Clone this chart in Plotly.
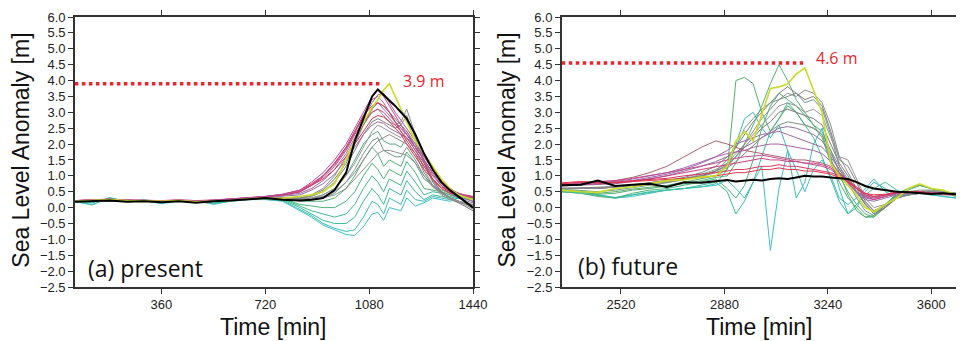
import plotly.graph_objects as go

# ---------------- Panel (a) present ----------------
T_A = [60, 120, 180, 240, 300, 360, 420, 480, 540, 600, 660, 720, 780,
       840, 880, 920, 960, 1000, 1030, 1060, 1090, 1110, 1130, 1150, 1170,
       1190, 1210, 1240, 1270, 1300, 1330, 1360, 1390, 1420, 1440]

a_cyan1 = [0.2, 0.08, 0.32, 0.18, 0.22, 0.12, 0.2, 0.22, 0.1, 0.2, 0.25, 0.25, 0.2,
           -0.1, -0.3, -0.55, -0.7, -0.85, -0.88, -0.6, -0.2, -0.15, -0.4, 0.0,
           -0.05, -0.1, 0.3, 0.05, 0.15, 0.3, 0.25, 0.2, 0.3, 0.35, 0.25]
a_cyan2 = [0.18, 0.1, 0.3, 0.2, 0.25, 0.15, 0.22, 0.2, 0.12, 0.22, 0.26, 0.26, 0.22,
           -0.05, -0.25, -0.5, -0.65, -0.75, -0.7, -0.3, 0.2, 0.1, -0.2, 0.3,
           0.2, 0.1, 0.55, 0.25, 0.2, 0.35, 0.3, 0.25, 0.3, 0.3, 0.2]
a_green1 = [0.2, 0.15, 0.28, 0.2, 0.22, 0.18, 0.2, 0.2, 0.15, 0.2, 0.25, 0.27, 0.25,
            0.0, -0.2, -0.4, -0.5, -0.5, -0.3, 0.2, 0.6, 0.4, 0.1, 0.6,
            0.5, 0.4, 0.85, 0.5, 0.25, 0.4, 0.35, 0.3, 0.35, 0.3, 0.25]
a_green2 = [0.18, 0.18, 0.25, 0.2, 0.2, 0.2, 0.22, 0.18, 0.18, 0.22, 0.27, 0.28, 0.27,
            0.05, -0.1, -0.2, -0.3, -0.2, 0.1, 0.6, 1.0, 0.8, 0.5, 0.9,
            0.8, 0.7, 1.15, 0.8, 0.4, 0.5, 0.45, 0.35, 0.4, 0.3, 0.3]
a_green3 = [0.2, 0.2, 0.24, 0.22, 0.2, 0.2, 0.2, 0.2, 0.2, 0.22, 0.27, 0.3, 0.28,
            0.1, 0.05, 0.0, 0.0, 0.2, 0.5, 1.0, 1.4, 1.2, 0.9, 1.2,
            1.1, 1.0, 1.45, 1.1, 0.6, 0.55, 0.5, 0.4, 0.35, 0.3, 0.25]
a_green4 = [0.2, 0.2, 0.22, 0.2, 0.22, 0.2, 0.2, 0.18, 0.2, 0.22, 0.28, 0.3, 0.3,
            0.2, 0.2, 0.2, 0.3, 0.6, 1.0, 1.5, 1.9, 1.7, 1.3, 1.5,
            1.4, 1.3, 1.75, 1.4, 0.9, 0.7, 0.55, 0.45, 0.4, 0.3, 0.3]
a_green5 = [0.2, 0.2, 0.22, 0.2, 0.2, 0.2, 0.2, 0.18, 0.2, 0.22, 0.27, 0.3, 0.3,
            0.25, 0.3, 0.4, 0.6, 1.0, 1.5, 2.0, 2.3, 2.4, 2.1, 2.0,
            2.0, 1.9, 2.2, 1.8, 1.3, 0.9, 0.6, 0.45, 0.35, 0.3, 0.2]
a_graygreen = [0.2, 0.2, 0.22, 0.2, 0.2, 0.2, 0.2, 0.2, 0.2, 0.22, 0.27, 0.3, 0.3,
               0.22, 0.25, 0.3, 0.45, 0.8, 1.2, 1.7, 2.1, 2.2, 1.8, 1.7,
               1.6, 1.6, 1.9, 1.5, 1.0, 0.7, 0.5, 0.4, 0.3, 0.25, 0.2]
a_gray1 = [0.2, 0.2, 0.23, 0.2, 0.2, 0.2, 0.2, 0.19, 0.2, 0.22, 0.27, 0.3, 0.32,
           0.3, 0.4, 0.6, 1.0, 1.6, 2.1, 2.6, 3.0, 3.1, 2.9, 2.7,
           2.6, 2.7, 3.1, 2.3, 1.5, 0.9, 0.5, 0.3, 0.2, 0.05, -0.05]
a_gray2 = [0.2, 0.2, 0.22, 0.2, 0.2, 0.2, 0.2, 0.2, 0.2, 0.22, 0.27, 0.3, 0.3,
           0.28, 0.35, 0.5, 0.8, 1.3, 1.8, 2.3, 2.7, 2.8, 2.7, 2.6,
           2.5, 2.6, 2.9, 2.2, 1.4, 0.8, 0.45, 0.3, 0.2, 0.1, 0.0]
a_gray3 = [0.2, 0.2, 0.22, 0.2, 0.2, 0.2, 0.2, 0.2, 0.2, 0.22, 0.27, 0.3, 0.3,
           0.25, 0.3, 0.4, 0.6, 1.0, 1.4, 1.9, 2.4, 2.6, 2.5, 2.4,
           2.3, 2.2, 2.4, 1.9, 1.2, 0.7, 0.4, 0.25, 0.15, 0.1, 0.05]
a_gray4 = [0.2, 0.2, 0.22, 0.2, 0.2, 0.2, 0.2, 0.2, 0.2, 0.22, 0.27, 0.3, 0.32,
           0.3, 0.38, 0.55, 0.9, 1.4, 2.0, 2.6, 3.1, 3.3, 3.2, 3.0,
           2.8, 2.6, 2.4, 2.0, 1.4, 0.85, 0.5, 0.3, 0.15, 0.0, -0.1]
a_gray5 = [0.2, 0.2, 0.22, 0.2, 0.2, 0.2, 0.2, 0.2, 0.2, 0.22, 0.27, 0.3, 0.3,
           0.25, 0.3, 0.35, 0.5, 0.8, 1.1, 1.5, 1.9, 2.1, 2.2, 2.3,
           2.2, 2.1, 2.0, 1.7, 1.1, 0.7, 0.45, 0.3, 0.2, 0.1, 0.1]
a_gray6 = [0.2, 0.2, 0.22, 0.2, 0.2, 0.2, 0.2, 0.2, 0.2, 0.22, 0.27, 0.3, 0.3,
           0.22, 0.25, 0.3, 0.4, 0.6, 0.9, 1.2, 1.5, 1.7, 1.8, 1.8,
           1.75, 1.7, 1.65, 1.4, 1.0, 0.65, 0.45, 0.3, 0.2, 0.15, 0.1]
a_purple1 = [0.22, 0.22, 0.25, 0.22, 0.22, 0.2, 0.22, 0.2, 0.22, 0.25, 0.3, 0.33, 0.38,
             0.45, 0.6, 0.85, 1.2, 1.7, 2.2, 2.7, 3.1, 3.3, 3.1, 2.9,
             2.7, 2.5, 2.3, 1.9, 1.5, 1.1, 0.75, 0.5, 0.35, 0.25, 0.2]
a_purple2 = [0.22, 0.22, 0.26, 0.22, 0.22, 0.2, 0.22, 0.2, 0.22, 0.25, 0.3, 0.33, 0.4,
             0.5, 0.7, 1.0, 1.4, 1.9, 2.4, 2.9, 3.4, 3.5, 3.3, 3.0,
             2.7, 2.5, 2.3, 2.0, 1.6, 1.2, 0.8, 0.55, 0.4, 0.3, 0.25]
a_purple3 = [0.2, 0.21, 0.24, 0.21, 0.21, 0.2, 0.21, 0.2, 0.21, 0.24, 0.29, 0.32, 0.36,
             0.4, 0.55, 0.75, 1.05, 1.5, 1.9, 2.3, 2.6, 2.7, 2.65, 2.5,
             2.4, 2.3, 2.2, 1.9, 1.5, 1.05, 0.7, 0.45, 0.3, 0.2, 0.15]
a_magenta1 = [0.22, 0.24, 0.27, 0.24, 0.23, 0.22, 0.24, 0.22, 0.24, 0.27, 0.32, 0.35, 0.42,
              0.55, 0.8, 1.1, 1.5, 2.0, 2.5, 3.0, 3.5, 3.7, 3.5, 3.2,
              2.9, 2.6, 2.3, 1.9, 1.5, 1.1, 0.8, 0.55, 0.45, 0.35, 0.3]
a_magenta2 = [0.22, 0.23, 0.26, 0.23, 0.22, 0.21, 0.23, 0.21, 0.23, 0.26, 0.31, 0.34, 0.4,
              0.5, 0.7, 0.95, 1.3, 1.8, 2.3, 2.7, 3.0, 3.1, 3.0, 2.8,
              2.6, 2.4, 2.2, 1.8, 1.4, 1.0, 0.7, 0.5, 0.4, 0.35, 0.3]
a_magenta3 = [0.22, 0.23, 0.26, 0.23, 0.22, 0.21, 0.23, 0.21, 0.23, 0.26, 0.31, 0.35, 0.41,
              0.52, 0.72, 1.0, 1.35, 1.85, 2.35, 2.85, 3.3, 3.55, 3.6, 3.3,
              3.0, 2.75, 2.5, 2.1, 1.6, 1.2, 0.85, 0.6, 0.45, 0.35, 0.3]
a_red1 = [0.22, 0.24, 0.26, 0.24, 0.22, 0.22, 0.24, 0.22, 0.23, 0.26, 0.31, 0.35, 0.42,
          0.55, 0.75, 1.0, 1.4, 1.9, 2.4, 2.9, 3.2, 3.3, 3.2, 3.0,
          2.7, 2.4, 2.1, 1.7, 1.3, 0.9, 0.6, 0.45, 0.4, 0.35, 0.35]
a_red2 = [0.2, 0.22, 0.25, 0.22, 0.21, 0.2, 0.22, 0.2, 0.22, 0.25, 0.3, 0.34, 0.4,
          0.5, 0.7, 0.9, 1.2, 1.6, 2.0, 2.4, 2.8, 2.9, 2.85, 2.7,
          2.5, 2.3, 2.0, 1.6, 1.2, 0.9, 0.65, 0.5, 0.45, 0.4, 0.35]
a_yellow = [0.2, 0.22, 0.25, 0.22, 0.2, 0.2, 0.22, 0.18, 0.2, 0.22, 0.28, 0.3, 0.3,
            0.35, 0.4, 0.5, 0.75, 1.5, 2.15, 2.7, 3.15, 3.4, 3.7, 3.9,
            3.5, 3.1, 2.75, 2.1, 1.7, 1.3, 0.9, 0.6, 0.4, 0.3, 0.25]
a_black = [0.18, 0.2, 0.22, 0.18, 0.2, 0.17, 0.2, 0.15, 0.2, 0.22, 0.25, 0.3, 0.25,
           0.22, 0.25, 0.3, 0.55, 1.1, 2.1, 2.8, 3.5, 3.72, 3.55, 3.4,
           3.2, 3.0, 2.8, 2.3, 1.7, 1.2, 0.8, 0.55, 0.35, 0.15, 0.0]

# ---------------- Panel (b) future ----------------
T_B = [2314, 2380, 2440, 2500, 2560, 2620, 2680, 2740, 2800, 2850,
       2890, 2920, 2950, 2980, 3010, 3040, 3070, 3100, 3130, 3160,
       3190, 3220, 3250, 3280, 3310, 3340, 3370, 3400, 3440, 3480,
       3520, 3560, 3600, 3640, 3686]

b_cyan1 = [0.5, 0.48, 0.4, 0.3, 0.35, 0.45, 0.55, 0.6, 0.65, 0.7,
           0.86, 0.6, 0.3, 0.8, 1.3, -1.35, 0.6, 1.8, 1.2, 0.5,
           1.2, 1.5, 1.0, 0.3, 0.1, 0.3, 0.6, 0.9, 0.5, 0.3,
           0.4, 0.45, 0.4, 0.35, 0.3]
b_cyan2 = [0.55, 0.5, 0.4, 0.32, 0.4, 0.5, 0.55, 0.6, 0.65, 0.75,
           1.2, 2.0, 2.8, 3.0, 2.5, 2.2, 2.6, 1.8, 0.3, 0.8,
           2.0, 2.5, 1.6, 0.6, -0.2, 0.0, 0.5, 0.8, 0.6, 0.35,
           0.4, 0.45, 0.4, 0.35, 0.3]
b_cyan3 = [0.5, 0.45, 0.38, 0.3, 0.4, 0.48, 0.55, 0.6, 0.7, 0.8,
           0.5, -0.2, 0.2, 0.8, 1.6, 2.4, 2.8, 3.3, 3.0, 2.6,
           2.2, 1.6, 0.9, 0.2, -0.2, 0.1, 0.4, 0.6, 0.8, 0.55,
           0.4, 0.45, 0.5, 0.45, 0.35]
b_green1 = [0.55, 0.52, 0.45, 0.5, 0.58, 0.65, 0.7, 0.8, 0.9, 1.0,
            1.2, 4.0, 4.1, 3.9, 3.0, 2.4, 2.8, 3.2, 3.0, 2.6,
            2.5, 2.3, 1.5, 1.0, 0.5, 0.1, -0.2, -0.3, 0.0, 0.4,
            0.6, 0.7, 0.6, 0.5, 0.45]
b_green2 = [0.55, 0.5, 0.42, 0.45, 0.55, 0.6, 0.68, 0.75, 0.85, 0.95,
            1.0, 1.4, 2.0, 2.6, 3.2, 3.9, 4.5, 4.0, 3.4, 3.0,
            2.6, 2.2, 1.4, 0.8, 0.3, 0.0, -0.3, -0.25, 0.1, 0.45,
            0.6, 0.7, 0.6, 0.5, 0.45]
b_green3 = [0.5, 0.45, 0.35, 0.3, 0.45, 0.55, 0.6, 0.7, 0.8, 0.9,
            0.6, 0.3, 0.7, 1.5, 2.5, 3.2, 3.6, 3.4, 3.2, 2.9,
            2.6, 2.4, 1.8, 1.1, 0.4, -0.1, -0.3, -0.3, 0.1, 0.4,
            0.55, 0.7, 0.6, 0.5, 0.4]
b_graygreen = [0.58, 0.55, 0.5, 0.55, 0.62, 0.7, 0.78, 0.88, 1.0, 1.15,
               1.5, 1.9, 2.5, 2.8, 3.1, 3.3, 3.4, 3.5, 3.6, 3.3,
               3.4, 3.1, 2.3, 1.3, 0.8, 0.3, -0.1, -0.25, 0.0, 0.35,
               0.5, 0.55, 0.55, 0.5, 0.45]
b_gray1 = [0.6, 0.62, 0.6, 0.65, 0.7, 0.75, 0.8, 0.9, 1.0, 1.15,
           1.3, 1.6, 2.0, 2.4, 2.8, 3.1, 3.4, 3.6, 3.5, 3.7,
           3.6, 3.3, 2.6, 1.6, 1.1, 0.6, 0.1, -0.15, 0.0, 0.3,
           0.4, 0.45, 0.5, 0.5, 0.4]
b_gray2 = [0.62, 0.6, 0.62, 0.66, 0.7, 0.78, 0.85, 0.95, 1.1, 1.3,
           1.6, 1.9, 2.3, 2.7, 3.0, 3.3, 3.6, 3.8, 3.6, 3.4,
           3.5, 3.2, 2.4, 1.5, 1.3, 0.8, 0.2, -0.1, 0.05, 0.35,
           0.45, 0.5, 0.5, 0.45, 0.4]
b_gray3 = [0.6, 0.6, 0.6, 0.64, 0.7, 0.75, 0.82, 0.9, 1.05, 1.2,
           1.4, 1.7, 2.0, 2.3, 2.6, 2.9, 3.2, 3.3, 3.2, 3.0,
           3.1, 2.9, 2.2, 1.6, 1.5, 0.9, 0.3, 0.0, 0.1, 0.35,
           0.45, 0.5, 0.55, 0.5, 0.45]
b_gray4 = [0.6, 0.62, 0.62, 0.66, 0.72, 0.78, 0.85, 0.92, 1.0, 1.15,
           1.35, 1.6, 1.9, 2.2, 2.5, 2.7, 3.0, 3.1, 3.0, 2.9,
           2.8, 2.6, 2.0, 1.4, 1.0, 0.5, 0.1, -0.2, 0.0, 0.3,
           0.4, 0.45, 0.5, 0.45, 0.4]
b_gray5 = [0.6, 0.6, 0.6, 0.65, 0.7, 0.75, 0.8, 0.88, 0.98, 1.1,
           1.25, 1.45, 1.7, 1.95, 2.2, 2.4, 2.6, 2.7, 2.65, 2.6,
           2.5, 2.3, 1.8, 1.3, 0.9, 0.5, 0.15, -0.1, 0.05, 0.3,
           0.4, 0.45, 0.5, 0.45, 0.4]
b_purple1 = [0.7, 0.72, 0.75, 0.8, 0.85, 0.95, 1.05, 1.2, 1.4, 1.6,
             1.8, 2.0, 2.1, 2.2, 2.3, 2.35, 2.4, 2.3, 2.2, 2.1,
             2.0, 1.9, 1.6, 1.2, 0.8, 0.5, 0.3, 0.25, 0.35, 0.45,
             0.5, 0.5, 0.45, 0.45, 0.4]
b_purple2 = [0.72, 0.75, 0.78, 0.82, 0.9, 1.0, 1.1, 1.25, 1.45, 1.6,
             1.7, 1.75, 1.8, 1.9, 1.95, 2.0, 2.0, 1.95, 1.9, 1.85,
             1.8, 1.7, 1.45, 1.1, 0.75, 0.5, 0.35, 0.3, 0.4, 0.45,
             0.5, 0.5, 0.45, 0.45, 0.4]
b_purple3 = [0.68, 0.7, 0.72, 0.75, 0.82, 0.9, 1.0, 1.15, 1.3, 1.45,
             1.6, 1.75, 1.9, 2.05, 2.2, 2.35, 2.5, 2.55, 2.5, 2.4,
             2.3, 2.1, 1.7, 1.2, 0.8, 0.45, 0.25, 0.2, 0.3, 0.4,
             0.45, 0.5, 0.45, 0.45, 0.4]
b_brown = [0.75, 0.78, 0.8, 0.85, 0.95, 1.1, 1.3, 1.6, 1.9, 2.1,
           2.0, 1.9, 1.8, 1.75, 1.7, 1.65, 1.6, 1.55, 1.5, 1.5,
           1.45, 1.4, 1.3, 1.1, 0.85, 0.6, 0.4, 0.35, 0.4, 0.45,
           0.5, 0.5, 0.45, 0.4, 0.4]
b_magenta1 = [0.72, 0.76, 0.8, 0.85, 0.92, 1.0, 1.1, 1.2, 1.3, 1.4,
              1.5, 1.55, 1.6, 1.62, 1.65, 1.6, 1.55, 1.5, 1.45, 1.4,
              1.35, 1.3, 1.2, 1.0, 0.8, 0.6, 0.4, 0.3, 0.35, 0.45,
              0.5, 0.5, 0.45, 0.45, 0.4]
b_magenta2 = [0.7, 0.72, 0.75, 0.78, 0.85, 0.9, 1.0, 1.1, 1.2, 1.3,
              1.35, 1.4, 1.45, 1.5, 1.55, 1.5, 1.5, 1.45, 1.45, 1.4,
              1.4, 1.35, 1.25, 1.05, 0.85, 0.6, 0.35, 0.25, 0.35, 0.45,
              0.5, 0.5, 0.45, 0.45, 0.4]
b_red1 = [0.75, 0.8, 0.78, 0.8, 0.85, 0.88, 0.92, 1.0, 1.05, 1.1,
          1.15, 1.2, 1.2, 1.25, 1.3, 1.3, 1.35, 1.3, 1.3, 1.25,
          1.2, 1.15, 1.1, 1.0, 0.85, 0.65, 0.45, 0.35, 0.4, 0.5,
          0.5, 0.5, 0.45, 0.45, 0.4]
b_red2 = [0.78, 0.82, 0.8, 0.78, 0.82, 0.85, 0.88, 0.92, 0.95, 1.0,
          1.05, 1.1, 1.1, 1.15, 1.2, 1.2, 1.25, 1.2, 1.2, 1.15,
          1.15, 1.1, 1.05, 0.95, 0.8, 0.6, 0.45, 0.4, 0.42, 0.48,
          0.5, 0.5, 0.45, 0.45, 0.42]
b_yellow = [0.55, 0.5, 0.48, 0.6, 0.65, 0.75, 0.85, 0.88, 0.96, 1.0,
            1.3, 2.1, 2.4, 2.1, 2.9, 3.75, 3.8, 3.9, 4.2, 4.4,
            3.7, 3.0, 1.4, 1.0, 0.7, 0.4, 0.0, -0.13, 0.1, 0.3,
            0.6, 0.75, 0.6, 0.55, 0.4]
b_black = [0.7, 0.72, 0.85, 0.68, 0.72, 0.75, 0.65, 0.8, 0.78, 0.82,
           0.87, 0.82, 0.85, 0.88, 0.85, 0.9, 0.92, 0.9, 0.95, 1.0,
           0.98, 0.98, 0.95, 0.92, 0.9, 0.8, 0.68, 0.6, 0.55, 0.5,
           0.48, 0.45, 0.43, 0.45, 0.42]

# Maximum markers (red dotted lines) and labels
MAX_A_X = [60, 1126]
MAX_A_Y = [3.9, 3.9]
MAX_B_X = [2314, 3154]
MAX_B_Y = [4.55, 4.55]
LABEL_A = "3.9 m"
LABEL_B = "4.6 m"

X_TICKS_A = [360, 720, 1080, 1440]
X_TICKS_B = [2520, 2880, 3240, 3600]

# ---------------- Figure ----------------
A_SERIES = [
    (a_cyan1, "#3ec1c9"), (a_cyan2, "#3bbcb4"), (a_green1, "#3cbc98"),
    (a_green2, "#44b88a"), (a_green3, "#4bb47a"), (a_green4, "#52b07c"),
    (a_green5, "#5aa88a"), (a_graygreen, "#719a8c"),
    (a_gray1, "#8c8c8c"), (a_gray2, "#808080"), (a_gray3, "#969696"),
    (a_gray4, "#7a7a7a"), (a_gray5, "#8a8a8a"), (a_gray6, "#909090"),
    (a_purple3, "#9070a0"), (a_purple1, "#9c6aa8"), (a_purple2, "#a860a8"),
    (a_magenta2, "#cc4080"), (a_red2, "#e53048"), (a_red1, "#d8385e"),
    (a_magenta1, "#c04a90"), (a_magenta3, "#b8509a"),
]
B_SERIES = [
    (b_cyan1, "#3ec1c9"), (b_cyan2, "#3bbcb4"), (b_cyan3, "#3cbc98"),
    (b_green3, "#4bb47a"), (b_green1, "#55b06a"), (b_green2, "#5aac72"),
    (b_graygreen, "#719a8c"),
    (b_gray1, "#8c8c8c"), (b_gray2, "#808080"), (b_gray3, "#969696"),
    (b_gray4, "#7a7a7a"), (b_gray5, "#8a8a8a"),
    (b_purple3, "#9070a0"), (b_purple1, "#9c6aa8"), (b_purple2, "#a860a8"),
    (b_brown, "#b06070"), (b_magenta2, "#cc4080"), (b_magenta1, "#c04a90"),
    (b_red1, "#d8385e"), (b_red2, "#e53048"),
]

fig = go.Figure()
for vals, col in A_SERIES:
    assert len(vals) == len(T_A)
    fig.add_trace(go.Scatter(x=T_A, y=vals, mode="lines", line=dict(color=col, width=1),
                             xaxis="x", yaxis="y", hoverinfo="skip"))
fig.add_trace(go.Scatter(x=T_A, y=a_yellow, mode="lines", line=dict(color="#c8dc28", width=1.6),
                         xaxis="x", yaxis="y", hoverinfo="skip"))
fig.add_trace(go.Scatter(x=T_A, y=a_black, mode="lines", line=dict(color="#000000", width=2),
                         xaxis="x", yaxis="y", hoverinfo="skip"))
fig.add_trace(go.Scatter(x=MAX_A_X, y=MAX_A_Y, mode="lines",
                         line=dict(color="#e8262c", width=3.5, dash="dot"),
                         xaxis="x", yaxis="y", hoverinfo="skip"))

for vals, col in B_SERIES:
    assert len(vals) == len(T_B)
    fig.add_trace(go.Scatter(x=T_B, y=vals, mode="lines", line=dict(color=col, width=1),
                             xaxis="x2", yaxis="y2", hoverinfo="skip"))
fig.add_trace(go.Scatter(x=T_B, y=b_yellow, mode="lines", line=dict(color="#c8dc28", width=1.6),
                         xaxis="x2", yaxis="y2", hoverinfo="skip"))
fig.add_trace(go.Scatter(x=T_B, y=b_black, mode="lines", line=dict(color="#000000", width=2),
                         xaxis="x2", yaxis="y2", hoverinfo="skip"))
fig.add_trace(go.Scatter(x=MAX_B_X, y=MAX_B_Y, mode="lines",
                         line=dict(color="#e8262c", width=3.5, dash="dot"),
                         xaxis="x2", yaxis="y2", hoverinfo="skip"))

W, H = 970, 341
tick_font = dict(family="Liberation Sans, Arial, sans-serif", size=13, color="#222")
axis_common = dict(showgrid=False, zeroline=False, showline=True, linecolor="#333",
                   linewidth=1.5, ticks="outside", ticklen=5, tickwidth=1,
                   tickcolor="#333", tickfont=tick_font)
yaxis_common = dict(axis_common, range=[-2.5, 6.0], tick0=-2.5, dtick=0.5,
                    tickformat=".1f")

fig.update_layout(
    width=W, height=H, showlegend=False,
    paper_bgcolor="white", plot_bgcolor="white",
    margin=dict(l=0, r=0, t=17, b=54),
    xaxis=dict(axis_common, domain=[76 / W, 480 / W], range=[60, 1440],
               tickvals=X_TICKS_A, mirror="ticks", anchor="y"),
    yaxis=dict(yaxis_common, domain=[0, 1], mirror="ticks", anchor="x"),
    xaxis2=dict(axis_common, domain=[570 / W, 1.0], range=[2314, 3686],
                tickvals=X_TICKS_B, mirror="ticks", anchor="y2"),
    yaxis2=dict(yaxis_common, domain=[0, 1], mirror=False, anchor="x2"),
)

title_font = dict(family="Liberation Sans, Arial, sans-serif", size=23, color="#111")
label_font = dict(family="Open Sans, Noto Sans, sans-serif", size=23, color="#111")
red_font = dict(family="Open Sans, Noto Sans, sans-serif", size=16, color="#e8262c")

def py(px):
    return (287 - px) / 270.0

ann = [
    dict(text="Sea Level Anomaly [m]", x=21 / W, y=py(150), textangle=-90, font=title_font),
    dict(text="Sea Level Anomaly [m]", x=514 / W, y=py(150), textangle=-90, font=title_font),
    dict(text="Time [min]", x=278 / W, y=py(327), font=title_font),
    dict(text="Time [min]", x=771 / W, y=py(327), font=title_font),
    dict(text="(a) present", x=87 / W, y=py(268), xanchor="left", font=label_font),
    dict(text="(b) future", x=584 / W, y=py(266), xanchor="left", font=label_font),
]
for a in ann:
    a.update(xref="paper", yref="paper", showarrow=False)
    a.setdefault("xanchor", "center")
    a.setdefault("yanchor", "middle")

ann.append(dict(text=LABEL_A, x=1190, y=3.98, xref="x", yref="y", xanchor="left",
                yanchor="middle", showarrow=False, font=red_font))
ann.append(dict(text=LABEL_B, x=3192, y=4.71, xref="x2", yref="y2", xanchor="left",
                yanchor="middle", showarrow=False, font=red_font))
fig.update_layout(annotations=ann)

fig.write_html("out.html",
               config={"displayModeBar": False},
               post_script="document.body.style.margin='0';"
                           "document.body.style.overflow='hidden';")
